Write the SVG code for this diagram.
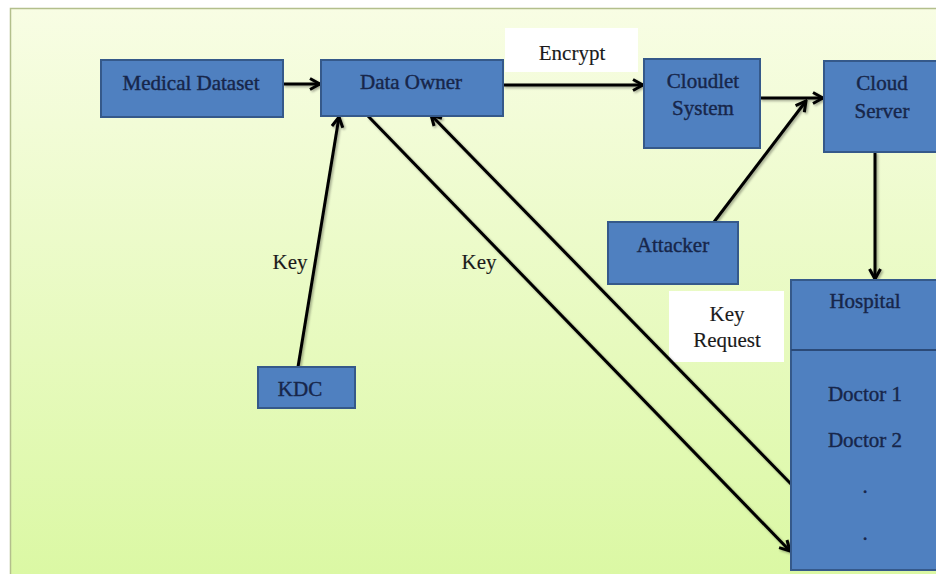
<svg xmlns="http://www.w3.org/2000/svg" width="936" height="574" viewBox="0 0 936 574">
<defs>
<linearGradient id="bg" x1="0" y1="0" x2="0" y2="1">
<stop offset="0" stop-color="#f8fde4"/>
<stop offset="1" stop-color="#dbf8a4"/>
</linearGradient>
<marker id="ah" markerWidth="14" markerHeight="14" viewBox="0 0 14 14" refX="12" refY="7" orient="auto" markerUnits="userSpaceOnUse">
<path d="M2,1.5 L12,7 L2,12.5" fill="none" stroke="#000" stroke-width="3" stroke-linejoin="miter"/>
</marker>
<filter id="sh" x="-10%" y="-10%" width="120%" height="120%">
<feDropShadow dx="1.5" dy="1.5" stdDeviation="1" flood-color="#000" flood-opacity="0.35"/>
</filter>
</defs>
<style>
.box{fill:#4f80c0;stroke:#35598a;stroke-width:2}
.t{font-family:'Liberation Serif','Tinos','DejaVu Serif','Times New Roman',serif;font-size:21px;fill:#17264a;text-anchor:middle;stroke:#17264a;stroke-width:0.4}
.lbl{font-family:'Liberation Serif','Tinos','DejaVu Serif','Times New Roman',serif;font-size:21px;fill:#1a1a1a;text-anchor:middle;stroke:#1a1a1a;stroke-width:0.15}
.c{stroke:#000;stroke-width:3;fill:none;marker-end:url(#ah)}
</style>
<rect x="0" y="0" width="936" height="574" fill="#fff"/>
<rect x="10" y="8" width="926" height="566" fill="url(#bg)"/>
<path d="M10.5,574 V8.5 H936" fill="none" stroke="#b3bf8c" stroke-width="1.5"/>

<g id="label-encrypt">
<rect x="505" y="28" width="133" height="44" fill="#fff"/>
<text class="lbl" x="572" y="60">Encrypt</text>
</g>
<g id="label-keyrequest">
<rect x="669" y="291" width="115" height="71" fill="#fff"/>
<text class="lbl" x="727" y="321">Key</text>
<text class="lbl" x="727" y="347">Request</text>
</g>

<g id="connectors" filter="url(#sh)">
<line class="c" x1="283" y1="84" x2="320" y2="84"/>
<line class="c" x1="503" y1="85" x2="643" y2="85"/>
<line class="c" x1="760" y1="98" x2="823" y2="98"/>
<line class="c" x1="714" y1="222" x2="806" y2="101"/>
<line class="c" x1="875" y1="152" x2="875" y2="279"/>
<line class="c" x1="298" y1="367" x2="339" y2="117"/>
<line class="c" x1="368" y1="116" x2="790" y2="551"/>
<line class="c" x1="791" y1="484" x2="431" y2="115"/>
</g>

<g id="label-key1"><text class="lbl" x="290" y="269">Key</text></g>
<g id="label-key2"><text class="lbl" x="479" y="269">Key</text></g>

<g id="medical-dataset">
<rect class="box" x="101" y="60" width="182" height="57"/>
<text class="t" x="191" y="90">Medical Dataset</text>
</g>
<g id="data-owner">
<rect class="box" x="321" y="60" width="182" height="56"/>
<text class="t" x="411" y="89">Data Owner</text>
</g>
<g id="cloudlet-system">
<rect class="box" x="644" y="59" width="116" height="89"/>
<text class="t" x="703" y="88">Cloudlet</text>
<text class="t" x="703" y="115">System</text>
</g>
<g id="cloud-server">
<rect class="box" x="824" y="61" width="114" height="91"/>
<text class="t" x="882" y="90">Cloud</text>
<text class="t" x="882" y="118">Server</text>
</g>
<g id="attacker">
<rect class="box" x="608" y="222" width="130" height="62"/>
<text class="t" x="673" y="252">Attacker</text>
</g>
<g id="kdc">
<rect class="box" x="258" y="367" width="97" height="41"/>
<text class="t" x="300" y="396">KDC</text>
</g>
<g id="hospital">
<rect class="box" x="791" y="280" width="147" height="290"/>
<line x1="791" y1="350" x2="938" y2="350" stroke="#2b4a78" stroke-width="2"/>
<text class="t" x="865" y="308">Hospital</text>
<text class="t" x="865" y="401">Doctor 1</text>
<text class="t" x="865" y="447">Doctor 2</text>
<text class="t" x="865" y="493">.</text>
<text class="t" x="865" y="540">.</text>
</g>
</svg>
